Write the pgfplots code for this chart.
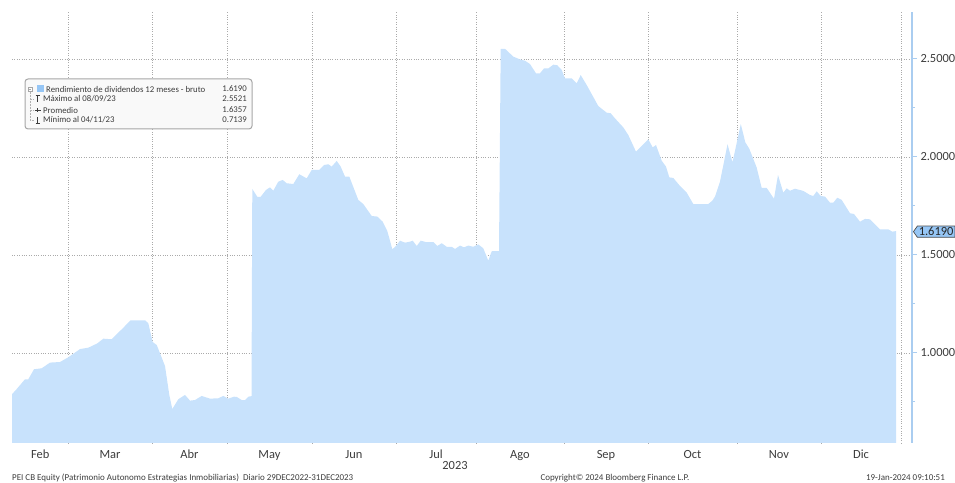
\documentclass[border=0pt]{standalone}
\usepackage{pgfplots}
\pgfplotsset{compat=1.18}
\usepackage{fontspec}
\setmainfont{Carlito}
\usetikzlibrary{shapes.symbols}

\definecolor{areafill}{RGB}{200,226,252}
\definecolor{axisblue}{RGB}{170,205,240}
\definecolor{callout}{RGB}{150,198,245}
\definecolor{txt}{RGB}{60,60,60}
\definecolor{gridc}{RGB}{170,170,170}

\begin{document}
\begin{tikzpicture}[x=1bp,y=1bp]
\path[use as bounding box] (-12,-40) rectangle (943,443);
\begin{axis}[
  at={(0,0)}, anchor=south west,
  scale only axis, width=900bp, height=431bp,
  xmin=12, xmax=912, ymin=0.5408, ymax=2.7398,
  separate axis lines,
  axis x line*=bottom, axis y line*=right,
  x axis line style={draw=none},
  y axis line style={draw=axisblue, line width=1.2bp},
  xtick={40.2,110,189.5,269.5,354,436,520,606,692.5,779,861},
  xticklabels={Feb,Mar,Abr,May,Jun,Jul,Ago,Sep,Oct,Nov,Dic},
  x tick style={draw=none},
  x tick label style={font=\fontsize{12.5}{14}\selectfont, text=txt, yshift=1.5bp},
  extra x ticks={68,152,227,312,396,476,564,648,737,821,901},
  extra x tick labels={},
  extra x tick style={grid=major, major tick length=0pt},
  ytick={1,1.5,2,2.5},
  minor ytick={0.75,1.25,1.75,2.25},
  ymajorgrids,
  major grid style={dotted, gridc, line width=0.9bp},
  tick align=outside,
  major tick length=5bp, minor tick length=3bp,
  y tick style={draw=axisblue, line width=1bp},
  yticklabel style={font=\fontsize{12.5}{14}\selectfont, text=txt, /pgf/number format/.cd, fixed, fixed zerofill, precision=4},
  /pgf/number format/assume math mode=true,
  clip mode=individual,
]
\addplot[fill=areafill, draw=none] coordinates {
(12,0.790) (16,0.812) (25,0.866) (28.3,0.866) (34,0.917) (41.7,0.922) (50,0.951) (60,0.954)
(68.3,0.978) (80,1.020) (88.3,1.027) (97.3,1.049) (103.3,1.073) (111.7,1.070) (123.3,1.129)
(130.7,1.167) (145,1.167) (148.3,1.152) (152.7,1.056) (156.7,1.041) (165,0.934) (169.3,0.786)
(172.3,0.714) (178.3,0.764) (185,0.786) (190,0.757) (195,0.760) (201.7,0.781) (210,0.767)
(218.3,0.769) (223.3,0.781) (228.3,0.767) (234,0.777) (236.7,0.776) (241.7,0.760) (245,0.760)
(248.3,0.777) (251.5,0.780) (252.3,1.837) (257.3,1.797) (260.7,1.797) (266,1.832) (270,1.845)
(273.3,1.828) (278.3,1.874) (282.7,1.883) (286.7,1.866) (293.3,1.862) (299.3,1.912) (306.7,1.891)
(311.7,1.934) (319.3,1.934) (324,1.959) (328.3,1.963) (331.7,1.951) (336.7,1.980) (340.7,1.951)
(345,1.900) (349.3,1.900) (358.3,1.781) (363.3,1.760) (371.7,1.699) (377.3,1.696) (382.7,1.670)
(387.3,1.622) (390,1.573) (392.3,1.529) (396,1.546) (400,1.573) (405,1.563) (410,1.568)
(412.7,1.573) (416.7,1.546) (420.7,1.573) (426.7,1.565) (433.3,1.566) (437.3,1.546) (441.7,1.560)
(446.7,1.542) (451.7,1.542) (455,1.531) (460,1.548) (464,1.539) (468.3,1.548) (473.3,1.542)
(478.3,1.554) (483.3,1.534) (488.3,1.471) (491.7,1.519) (496,1.520) (499,1.520) (500.7,2.552)
(505,2.552) (513.3,2.512) (520,2.498) (525,2.491) (530,2.474) (536,2.427) (540,2.427)
(544,2.452) (548.3,2.452) (553.3,2.471) (557.3,2.468) (561.7,2.444) (565,2.401) (571.7,2.401)
(576.7,2.376) (580.7,2.418) (586.7,2.367) (598.3,2.260) (606.7,2.226) (610.7,2.223) (615,2.197)
(623.3,2.151) (628.3,2.112) (636,2.027) (641.7,2.056) (648.3,2.090) (652.7,2.049) (656,2.061)
(661.7,1.981) (666,1.951) (669.3,1.896) (673.3,1.893) (680,1.852) (686.7,1.818) (693.3,1.760)
(708.3,1.760) (712.3,1.777) (715,1.798) (720,1.874) (727.5,2.065) (732.5,1.973) (740.8,2.168)
(745.3,2.075) (749.3,2.042) (756.7,1.946) (761.7,1.842) (766.7,1.842) (774,1.787) (778,1.908)
(783.3,1.818) (786.7,1.840) (790,1.828) (795,1.838) (803.3,1.827) (810,1.806) (813.3,1.801)
(816.7,1.825) (820.7,1.801) (825,1.798) (830,1.767) (833.3,1.767) (837.3,1.792) (841.7,1.781)
(850,1.713) (854,1.709) (860,1.670) (865,1.684) (870,1.682) (873.3,1.665) (880,1.631)
(888.3,1.631) (892.3,1.619) (896,1.622)
} \closedcycle;
\coordinate (lastv) at (axis cs:912,1.619);
\end{axis}

% last value callout
\node[signal, signal to=west, signal pointer angle=110, fill=callout, draw=black!70, line width=0.7bp,
  inner sep=1.4bp, anchor=west, font=\fontsize{12.5}{14}\selectfont, text=black!85]
  at ([xshift=1bp]lastv) {1.6190};

% legend box
\draw[rounded corners=3bp, draw=gray!70, line width=1bp, fill=gray!5] (13,314) rectangle (240,364);
\begin{scope}[font=\fontsize{8.8}{10}\selectfont, text=txt]
\draw[gray!60, line width=0.5bp, densely dotted] (18,351) -- (18,323) -- (22,323);
\draw[gray!60, line width=0.5bp, densely dotted] (18,344) -- (22,344) (18,333) -- (22,333);
\draw[gray!70, line width=0.5bp, fill=white] (16,352) rectangle (20,356);
\draw[gray!70, line width=0.5bp] (16.8,354) -- (19.2,354);
\fill[callout] (25,350.5) rectangle (32,357.5);
\node[anchor=west, inner sep=0] at (34,354) {Rendimiento de dividendos 12 meses - bruto};
\node[anchor=east, inner sep=0] at (235,354) {1.6190};
\draw[txt, line width=0.5bp] (23.5,347.5) -- (27.5,347.5) (25.5,347.5) -- (25.5,341);
\node[anchor=west, inner sep=0] at (31,344) {Máximo al 08/09/23};
\node[anchor=east, inner sep=0] at (235,344) {2.5521};
\draw[txt, line width=0.5bp] (22.5,333) -- (28.5,333) (25.5,331) -- (25.5,335);
\node[anchor=west, inner sep=0] at (31,333) {Promedio};
\node[anchor=east, inner sep=0] at (235,333) {1.6357};
\draw[txt, line width=0.5bp] (23.5,319.5) -- (27.5,319.5) (25.5,319.5) -- (25.5,326);
\node[anchor=west, inner sep=0] at (31,323) {Mínimo al 04/11/23};
\node[anchor=east, inner sep=0] at (235,323) {0.7139};
\end{scope}

% year and footer
\node[font=\fontsize{12.5}{14}\selectfont, text=txt] at (443,-23) {2023};
\begin{scope}[font=\fontsize{9}{10}\selectfont, text=txt]
\node[anchor=west, inner sep=0] at (0,-35) {PEI CB Equity (Patrimonio Autonomo Estrategias Inmobiliarias)\ \ Diario 29DEC2022-31DEC2023};
\node[inner sep=0] at (603,-35) {Copyright© 2024 Bloomberg Finance L.P.};
\node[anchor=east, inner sep=0] at (933,-35) {19-Jan-2024 09:10:51};
\end{scope}
\end{tikzpicture}
\end{document}
